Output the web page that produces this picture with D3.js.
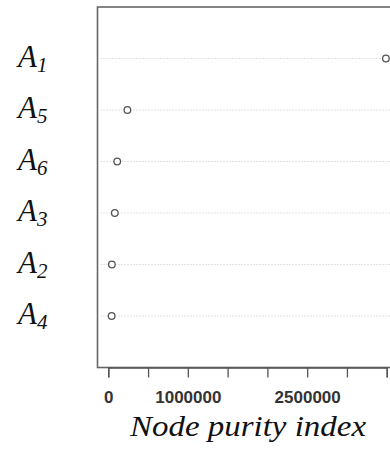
<!DOCTYPE html>
<html>
<head>
<meta charset="utf-8">
<script src="https://cdnjs.cloudflare.com/ajax/libs/d3/7.8.5/d3.min.js"></script>
<style>
  body { margin: 0; background: #fff; }
  #chart { width: 390px; height: 451px; }
</style>
</head>
<body>
<div id="chart"></div>
<script>
// rows from top to bottom
var var_names = ["A1", "A5", "A6", "A3", "A2", "A4"];
var purity = [3490000, 240000, 112000, 82000, 45000, 42000];
var tick_values = [0, 500000, 1000000, 1500000, 2000000, 2500000, 3000000, 3500000];
var shown_labels = [0, 1000000, 2500000];

var draw_dotchart = {
    width: 0,
    height: 0,
    view: 0,
    initialize: function() {
        var self = this;
        self.width = 390;
        self.height = 451;
        self.view = d3.select("#chart").append("svg")
            .attr("width", self.width)
            .attr("height", self.height);
        self.draw();
    },

    draw: function() {
        var self = this;
        var n = var_names.length;

        var x = d3.scaleLinear()
            .domain([0, 3500000])
            .range([108.3, 386.7]);
        // row n-1 at bottom = 1, top = n
        var y = d3.scaleLinear()
            .domain([0, n + 1])
            .range([367.5, 7]);

        var left = 97.5, top = y(n + 1), bottom = y(0);

        // dotted guide lines
        self.view.append("g")
            .selectAll("line")
            .data(var_names)
            .enter()
            .append("line")
            .attr("x1", left + 3)
            .attr("x2", self.width + 10)
            .attr("y1", function(d, i) { return y(n - i); })
            .attr("y2", function(d, i) { return y(n - i); })
            .attr("stroke", "#c4c4c4")
            .attr("stroke-width", 1)
            .attr("stroke-dasharray", "1,2");

        // frame
        self.view.append("rect")
            .attr("x", left)
            .attr("y", top)
            .attr("width", self.width + 20 - left)
            .attr("height", bottom - top)
            .attr("fill", "none")
            .attr("stroke", "#666")
            .attr("stroke-width", 1.6);

        // points
        self.view.append("g")
            .selectAll("circle")
            .data(purity)
            .enter()
            .append("circle")
            .attr("cx", function(d) { return x(d); })
            .attr("cy", function(d, i) { return y(n - i); })
            .attr("r", 3.3)
            .attr("fill", "#fff")
            .attr("stroke", "#555")
            .attr("stroke-width", 1.3);

        // x axis
        var axis = d3.axisBottom(x)
            .tickValues(tick_values)
            .tickSize(10)
            .tickPadding(13)
            .tickFormat(function(d) {
                return shown_labels.indexOf(d) >= 0 ? d3.format("d")(d) : "";
            });
        var g = self.view.append("g")
            .attr("transform", "translate(0," + bottom + ")")
            .call(axis);
        g.select(".domain").attr("stroke", "#555").attr("stroke-width", 1.3);
        g.selectAll(".tick line").attr("stroke", "#555").attr("stroke-width", 1.3);
        g.selectAll(".tick text")
            .attr("fill", "#333")
            .style("font-family", "Liberation Sans, Arial, sans-serif")
            .style("font-size", "17px")
            .style("font-weight", "bold");

        // axis title
        self.view.append("text")
            .attr("x", 248)
            .attr("y", 436)
            .attr("text-anchor", "middle")
            .attr("textLength", 236)
            .attr("lengthAdjust", "spacingAndGlyphs")
            .style("font-family", "Liberation Serif, serif")
            .style("font-style", "italic")
            .style("font-size", "30px")
            .attr("fill", "#111")
            .text("Node purity index");

        // row labels with subscripts
        var labels = self.view.append("g")
            .selectAll("text")
            .data(var_names)
            .enter()
            .append("text")
            .attr("x", 18)
            .attr("y", function(d, i) { return y(n - i) + 8; })
            .style("font-family", "Liberation Serif, serif")
            .style("font-style", "italic")
            .style("font-size", "31px")
            .attr("fill", "#111");
        labels.append("tspan").text(function(d) { return d.charAt(0); });
        labels.append("tspan")
            .attr("dy", 5)
            .style("font-size", "21px")
            .text(function(d) { return d.slice(1); });
    }
}

draw_dotchart.initialize();
</script>
</body>
</html>
